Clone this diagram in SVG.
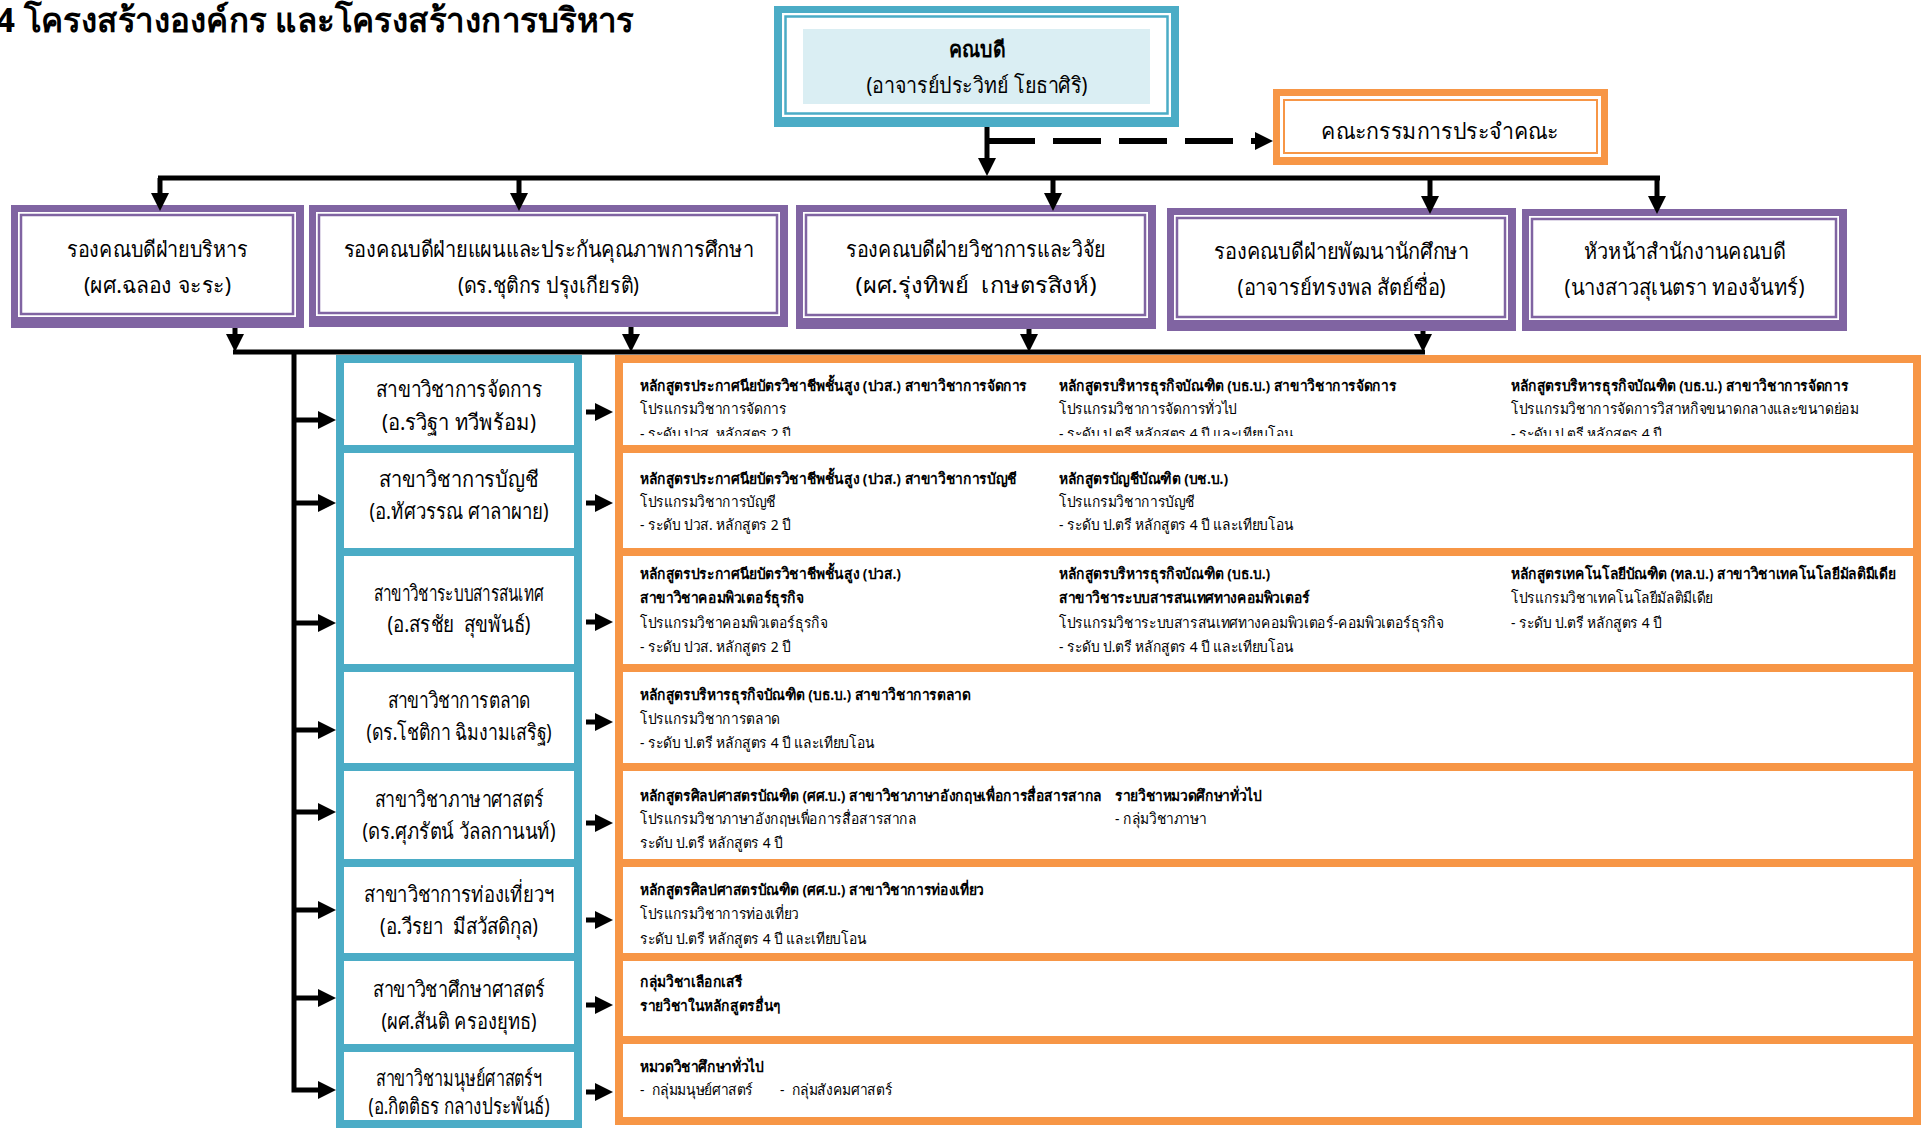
<svg xmlns="http://www.w3.org/2000/svg" width="1921" height="1128" viewBox="0 0 1921 1128">
<style>
text{font-family:"Noto Sans","DejaVu Sans",sans-serif;fill:#000;white-space:pre}
.title{font-size:34px;font-weight:bold}
.lbl{font-size:22px;text-anchor:middle}
.lblb{font-size:22px;text-anchor:middle;font-weight:bold}
.o{font-size:15px}
.ob{font-size:15px;font-weight:bold}
.ln{stroke:#000;stroke-width:5;fill:none}
.tealbox{fill:#fff;stroke:#4BACC6;stroke-width:8}
.orgbox{fill:#fff;stroke:#F79646;stroke-width:8}
.pout{fill:#8064A2}
.pin{fill:#fff}
.pthin{fill:none;stroke:#8064A2;stroke-width:2.5}
</style>
<defs>
<marker id="ah" markerUnits="userSpaceOnUse" markerWidth="18" markerHeight="18" refX="12" refY="9" orient="auto" viewBox="0 0 18 18"><path d="M0,0L18,9L0,18z" fill="#000"/></marker>
<clipPath id="r1clip"><rect x="0" y="355" width="2300" height="81"/></clipPath>
</defs>
<rect width="1921" height="1128" fill="#fff"/>
<text class="title" x="-4" y="32" textLength="638" lengthAdjust="spacingAndGlyphs">4 โครงสร้างองค์กร และโครงสร้างการบริหาร</text>

<g id="dean">
<rect x="774" y="6" width="405" height="121" fill="#4BACC6"/>
<rect x="782" y="13" width="389" height="104" fill="#fff"/>
<rect x="785.5" y="16.5" width="382" height="97" fill="none" stroke="#4BACC6" stroke-width="2.5"/>
<rect x="803" y="29" width="347" height="75" fill="#DAEEF3"/>
<text class="lblb" x="977" y="57" textLength="56" lengthAdjust="spacingAndGlyphs">คณบดี</text>
<text class="lbl" x="977" y="93" textLength="221" lengthAdjust="spacingAndGlyphs">(อาจารย์ประวิทย์ โยธาศิริ)</text>
</g>

<g id="committee">
<rect x="1273" y="89" width="335" height="76" fill="#F79646"/>
<rect x="1280" y="96" width="321" height="61" fill="#fff"/>
<rect x="1284" y="100" width="313" height="53" fill="none" stroke="#F79646" stroke-width="2"/>
<text class="lbl" x="1440" y="139" textLength="238" lengthAdjust="spacingAndGlyphs">คณะกรรมการประจำคณะ</text>
</g>

<g id="vp-admin">
<rect class="pout" x="11" y="205" width="293" height="123"/>
<rect class="pin" x="18" y="212" width="278" height="105"/>
<rect class="pthin" x="21" y="215" width="272" height="99"/>
<text class="lbl" x="157.5" y="257" textLength="181" lengthAdjust="spacingAndGlyphs">รองคณบดีฝ่ายบริหาร</text>
<text class="lbl" x="157.5" y="293" textLength="147" lengthAdjust="spacingAndGlyphs">(ผศ.ฉลอง จะระ)</text>
</g>
<g id="vp-plan">
<rect class="pout" x="309" y="205" width="479" height="122"/>
<rect class="pin" x="316" y="212" width="464" height="104"/>
<rect class="pthin" x="319" y="215" width="458" height="98"/>
<text class="lbl" x="548.5" y="257" textLength="410" lengthAdjust="spacingAndGlyphs">รองคณบดีฝ่ายแผนและประกันคุณภาพการศึกษา</text>
<text class="lbl" x="548.5" y="293" textLength="181" lengthAdjust="spacingAndGlyphs">(ดร.ชุติกร ปรุงเกียรติ)</text>
</g>
<g id="vp-academic">
<rect class="pout" x="796" y="205" width="360" height="124"/>
<rect class="pin" x="803" y="212" width="345" height="106"/>
<rect class="pthin" x="806" y="215" width="339" height="100"/>
<text class="lbl" x="976" y="257" textLength="260" lengthAdjust="spacingAndGlyphs">รองคณบดีฝ่ายวิชาการและวิจัย</text>
<text class="lbl" x="976" y="293" textLength="241" lengthAdjust="spacingAndGlyphs">(ผศ.รุ่งทิพย์  เกษตรสิงห์)</text>
</g>
<g id="vp-student">
<rect class="pout" x="1167" y="208" width="349" height="123"/>
<rect class="pin" x="1174" y="215" width="334" height="105"/>
<rect class="pthin" x="1177" y="218" width="328" height="99"/>
<text class="lbl" x="1341.5" y="259" textLength="255" lengthAdjust="spacingAndGlyphs">รองคณบดีฝ่ายพัฒนานักศึกษา</text>
<text class="lbl" x="1341.5" y="295" textLength="208" lengthAdjust="spacingAndGlyphs">(อาจารย์ทรงพล สัตย์ซื่อ)</text>
</g>
<g id="office-head">
<rect class="pout" x="1522" y="209" width="325" height="122"/>
<rect class="pin" x="1529" y="216" width="310" height="104"/>
<rect class="pthin" x="1532" y="219" width="304" height="98"/>
<text class="lbl" x="1684.5" y="259" textLength="202" lengthAdjust="spacingAndGlyphs">หัวหน้าสำนักงานคณบดี</text>
<text class="lbl" x="1684.5" y="295" textLength="240" lengthAdjust="spacingAndGlyphs">(นางสาวสุเนตรา ทองจันทร์)</text>
</g>

<g id="programs">
<rect class="orgbox" x="619" y="359" width="1298" height="90"/>
<rect class="orgbox" x="619" y="449" width="1298" height="103"/>
<rect class="orgbox" x="619" y="552" width="1298" height="116"/>
<rect class="orgbox" x="619" y="668" width="1298" height="99"/>
<rect class="orgbox" x="619" y="767" width="1298" height="96"/>
<rect class="orgbox" x="619" y="863" width="1298" height="94"/>
<rect class="orgbox" x="619" y="957" width="1298" height="83"/>
<rect class="orgbox" x="619" y="1040" width="1298" height="81"/>
</g>

<g id="dept-management">
<rect class="tealbox" x="340" y="359" width="238" height="90"/>
<text class="lbl" x="459" y="397" textLength="166" lengthAdjust="spacingAndGlyphs">สาขาวิชาการจัดการ</text>
<text class="lbl" x="459" y="430" textLength="154" lengthAdjust="spacingAndGlyphs">(อ.รวิฐา ทวีพร้อม)</text>
</g>
<g id="dept-accounting">
<rect class="tealbox" x="340" y="449" width="238" height="103"/>
<text class="lbl" x="459" y="487" textLength="160" lengthAdjust="spacingAndGlyphs">สาขาวิชาการบัญชี</text>
<text class="lbl" x="459" y="519" textLength="179" lengthAdjust="spacingAndGlyphs">(อ.ทัศวรรณ ศาลาผาย)</text>
</g>
<g id="dept-is">
<rect class="tealbox" x="340" y="552" width="238" height="116"/>
<text class="lbl" x="459" y="601" textLength="170" lengthAdjust="spacingAndGlyphs">สาขาวิชาระบบสารสนเทศ</text>
<text class="lbl" x="459" y="632" textLength="143" lengthAdjust="spacingAndGlyphs">(อ.สรชัย  สุขพันธ์)</text>
</g>
<g id="dept-marketing">
<rect class="tealbox" x="340" y="668" width="238" height="99"/>
<text class="lbl" x="459" y="708" textLength="143" lengthAdjust="spacingAndGlyphs">สาขาวิชาการตลาด</text>
<text class="lbl" x="459" y="740" textLength="185" lengthAdjust="spacingAndGlyphs">(ดร.โชติกา ฉิมงามเสริฐ)</text>
</g>
<g id="dept-language">
<rect class="tealbox" x="340" y="767" width="238" height="96"/>
<text class="lbl" x="459" y="807" textLength="169" lengthAdjust="spacingAndGlyphs">สาขาวิชาภาษาศาสตร์</text>
<text class="lbl" x="459" y="839" textLength="193" lengthAdjust="spacingAndGlyphs">(ดร.ศุภรัตน์ วัลลกานนท์)</text>
</g>
<g id="dept-tourism">
<rect class="tealbox" x="340" y="863" width="238" height="94"/>
<text class="lbl" x="459" y="902" textLength="190" lengthAdjust="spacingAndGlyphs">สาขาวิชาการท่องเที่ยวฯ</text>
<text class="lbl" x="459" y="934" textLength="158" lengthAdjust="spacingAndGlyphs">(อ.วีรยา  มีสวัสดิกุล)</text>
</g>
<g id="dept-education">
<rect class="tealbox" x="340" y="957" width="238" height="91"/>
<text class="lbl" x="459" y="997" textLength="172" lengthAdjust="spacingAndGlyphs">สาขาวิชาศึกษาศาสตร์</text>
<text class="lbl" x="459" y="1029" textLength="155" lengthAdjust="spacingAndGlyphs">(ผศ.สันติ ครองยุทธ)</text>
</g>
<g id="dept-humanities">
<rect class="tealbox" x="340" y="1048" width="238" height="76"/>
<text class="lbl" x="459" y="1086" textLength="166" lengthAdjust="spacingAndGlyphs">สาขาวิชามนุษย์ศาสตร์ฯ</text>
<text class="lbl" x="459" y="1114" textLength="181" lengthAdjust="spacingAndGlyphs">(อ.กิตติธร กลางประพันธ์)</text>
</g>

<g id="program-texts" transform="matrix(0.92 0 0 1 51.2 0)">
<g clip-path="url(#r1clip)">
<text class="ob" x="640" y="391">หลักสูตรประกาศนียบัตรวิชาชีพชั้นสูง (ปวส.) สาขาวิชาการจัดการ</text>
<text class="o" x="640" y="414">โปรแกรมวิชาการจัดการ</text>
<text class="o" x="640" y="439">- ระดับ ปวส. หลักสูตร 2 ปี</text>
<text class="ob" x="1095.4" y="391">หลักสูตรบริหารธุรกิจบัณฑิต (บธ.บ.) สาขาวิชาการจัดการ</text>
<text class="o" x="1095.4" y="414">โปรแกรมวิชาการจัดการทั่วไป</text>
<text class="o" x="1095.4" y="439">- ระดับ ป.ตรี หลักสูตร 4 ปี และเทียบโอน</text>
<text class="ob" x="1586.7" y="391">หลักสูตรบริหารธุรกิจบัณฑิต (บธ.บ.) สาขาวิชาการจัดการ</text>
<text class="o" x="1586.7" y="414">โปรแกรมวิชาการจัดการวิสาหกิจขนาดกลางและขนาดย่อม</text>
<text class="o" x="1586.7" y="439">- ระดับ ป.ตรี หลักสูตร 4 ปี</text>
</g>
<text class="ob" x="640" y="484">หลักสูตรประกาศนียบัตรวิชาชีพชั้นสูง (ปวส.) สาขาวิชาการบัญชี</text>
<text class="o" x="640" y="507">โปรแกรมวิชาการบัญชี</text>
<text class="o" x="640" y="530">- ระดับ ปวส. หลักสูตร 2 ปี</text>
<text class="ob" x="1095.4" y="484">หลักสูตรบัญชีบัณฑิต (บช.บ.)</text>
<text class="o" x="1095.4" y="507">โปรแกรมวิชาการบัญชี</text>
<text class="o" x="1095.4" y="530">- ระดับ ป.ตรี หลักสูตร 4 ปี และเทียบโอน</text>

<text class="ob" x="640" y="579">หลักสูตรประกาศนียบัตรวิชาชีพชั้นสูง (ปวส.)</text>
<text class="ob" x="640" y="603">สาขาวิชาคอมพิวเตอร์ธุรกิจ</text>
<text class="o" x="640" y="628">โปรแกรมวิชาคอมพิวเตอร์ธุรกิจ</text>
<text class="o" x="640" y="652">- ระดับ ปวส. หลักสูตร 2 ปี</text>
<text class="ob" x="1095.4" y="579">หลักสูตรบริหารธุรกิจบัณฑิต (บธ.บ.)</text>
<text class="ob" x="1095.4" y="603">สาขาวิชาระบบสารสนเทศทางคอมพิวเตอร์</text>
<text class="o" x="1095.4" y="628">โปรแกรมวิชาระบบสารสนเทศทางคอมพิวเตอร์-คอมพิวเตอร์ธุรกิจ</text>
<text class="o" x="1095.4" y="652">- ระดับ ป.ตรี หลักสูตร 4 ปี และเทียบโอน</text>
<text class="ob" x="1586.7" y="579">หลักสูตรเทคโนโลยีบัณฑิต (ทล.บ.) สาขาวิชาเทคโนโลยีมัลติมีเดีย</text>
<text class="o" x="1586.7" y="603">โปรแกรมวิชาเทคโนโลยีมัลติมีเดีย</text>
<text class="o" x="1586.7" y="628">- ระดับ ป.ตรี หลักสูตร 4 ปี</text>

<text class="ob" x="640" y="700">หลักสูตรบริหารธุรกิจบัณฑิต (บธ.บ.) สาขาวิชาการตลาด</text>
<text class="o" x="640" y="724">โปรแกรมวิชาการตลาด</text>
<text class="o" x="640" y="748">- ระดับ ป.ตรี หลักสูตร 4 ปี และเทียบโอน</text>

<text class="ob" x="640" y="801">หลักสูตรศิลปศาสตรบัณฑิต (ศศ.บ.) สาขาวิชาภาษาอังกฤษเพื่อการสื่อสารสากล</text>
<text class="o" x="640" y="824">โปรแกรมวิชาภาษาอังกฤษเพื่อการสื่อสารสากล</text>
<text class="o" x="640" y="848">ระดับ ป.ตรี หลักสูตร 4 ปี</text>
<text class="ob" x="1156.3" y="801">รายวิชาหมวดศึกษาทั่วไป</text>
<text class="o" x="1156.3" y="824">- กลุ่มวิชาภาษา</text>

<text class="ob" x="640" y="895">หลักสูตรศิลปศาสตรบัณฑิต (ศศ.บ.) สาขาวิชาการท่องเที่ยว</text>
<text class="o" x="640" y="919">โปรแกรมวิชาการท่องเที่ยว</text>
<text class="o" x="640" y="944">ระดับ ป.ตรี หลักสูตร 4 ปี และเทียบโอน</text>

<text class="ob" x="640" y="987">กลุ่มวิชาเลือกเสรี</text>
<text class="ob" x="640" y="1011">รายวิชาในหลักสูตรอื่นๆ</text>

<text class="ob" x="640" y="1072">หมวดวิชาศึกษาทั่วไป</text>
<text class="o" x="640" y="1095">-  กลุ่มมนุษย์ศาสตร์</text>
<text class="o" x="792.2" y="1095">-  กลุ่มสังคมศาสตร์</text>
</g>

<g id="connectors">
<path class="ln" d="M987,127V170" marker-end="url(#ah)"/>
<path d="M987,141H1267" fill="none" stroke="#000" stroke-width="6" stroke-dasharray="48 18" marker-end="url(#ah)"/>
<path class="ln" d="M158,178H1660"/>
<path class="ln" d="M160,178V205" marker-end="url(#ah)"/>
<path class="ln" d="M519,178V205" marker-end="url(#ah)"/>
<path class="ln" d="M1053,178V205" marker-end="url(#ah)"/>
<path class="ln" d="M1430,178V208" marker-end="url(#ah)"/>
<path class="ln" d="M1657,178V208" marker-end="url(#ah)"/>
<path class="ln" d="M235,328V346" marker-end="url(#ah)"/>
<path class="ln" d="M631,327V346" marker-end="url(#ah)"/>
<path class="ln" d="M1029,329V346" marker-end="url(#ah)"/>
<path class="ln" d="M1423,331V346" marker-end="url(#ah)"/>
<path class="ln" d="M233,352H1425"/>
<path class="ln" d="M294,352V1090H330" marker-end="url(#ah)"/>
<path class="ln" d="M294,420H330" marker-end="url(#ah)"/>
<path class="ln" d="M294,503H330" marker-end="url(#ah)"/>
<path class="ln" d="M294,623H330" marker-end="url(#ah)"/>
<path class="ln" d="M294,730H330" marker-end="url(#ah)"/>
<path class="ln" d="M294,812H330" marker-end="url(#ah)"/>
<path class="ln" d="M294,910H330" marker-end="url(#ah)"/>
<path class="ln" d="M294,998H330" marker-end="url(#ah)"/>
<path class="ln" d="M586,412H607" marker-end="url(#ah)"/>
<path class="ln" d="M586,503H607" marker-end="url(#ah)"/>
<path class="ln" d="M586,622H607" marker-end="url(#ah)"/>
<path class="ln" d="M586,722H607" marker-end="url(#ah)"/>
<path class="ln" d="M586,823H607" marker-end="url(#ah)"/>
<path class="ln" d="M586,920H607" marker-end="url(#ah)"/>
<path class="ln" d="M586,1005H607" marker-end="url(#ah)"/>
<path class="ln" d="M586,1092H607" marker-end="url(#ah)"/>
</g>
</svg>
